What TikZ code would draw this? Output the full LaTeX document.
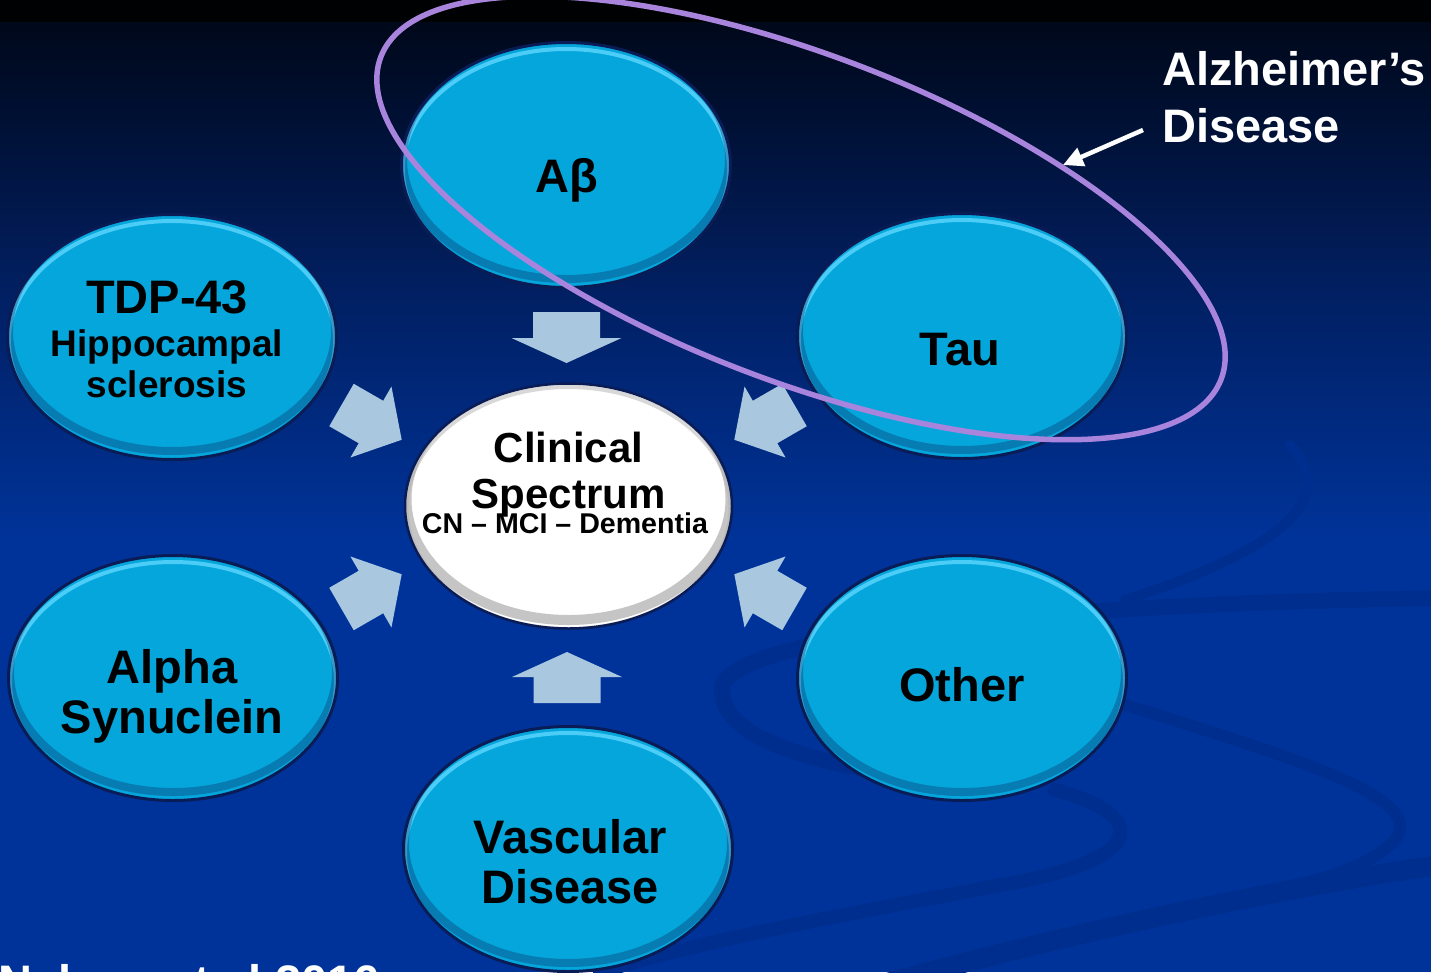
\documentclass[tikz,border=0pt]{standalone}
\usepackage{fontspec}
\setmainfont{Liberation Sans}
\usetikzlibrary{shapes.geometric,arrows.meta}
\definecolor{bgtop}{RGB}{0,6,20}
\definecolor{bgmid}{RGB}{1,32,100}
\definecolor{bgbot}{RGB}{0,51,153}
\definecolor{swoosh}{RGB}{0,46,143}
\definecolor{cyanf}{RGB}{5,166,219}
\definecolor{hl}{RGB}{75,205,248}
\definecolor{edge}{RGB}{10,28,85}
\definecolor{arr}{RGB}{169,200,224}
\definecolor{adpurple}{RGB}{168,132,220}
\tikzset{
  blob/.style={ellipse, draw=edge, line width=3pt, fill=cyanf,
    minimum width=329pt, minimum height=245pt, inner sep=0pt,
    path picture={
      \draw[hl, line width=4pt] ([yshift=-4pt]path picture bounding box.center) ellipse [x radius=163pt, y radius=120pt];
      \draw[edge, opacity=0.3, line width=8pt] ([yshift=6pt]path picture bounding box.center) ellipse [x radius=163pt, y radius=120pt];
    }},
  clinblob/.style={ellipse, draw=edge, line width=2.5pt, fill=white,
    minimum width=327pt, minimum height=245pt, inner sep=0pt,
    path picture={
      \draw[black!45, opacity=0.5, line width=10pt] ([yshift=7pt]path picture bounding box.center) ellipse [x radius=162pt, y radius=121pt];
      \draw[black!30, opacity=0.5, line width=4pt] ([yshift=-2pt]path picture bounding box.center) ellipse [x radius=162pt, y radius=121pt];
    }},
  lab/.style={font=\bfseries\fontsize{47}{50}\selectfont, anchor=base, inner sep=0pt, text=black},
  labm/.style={lab, font=\bfseries\fontsize{42}{44}\selectfont},
  labs/.style={lab, font=\bfseries\fontsize{37}{40}\selectfont},
  labxs/.style={lab, font=\bfseries\fontsize{28.6}{30}\selectfont},
  wlab/.style={lab, text=white, anchor=base west},
  diagarrow/.pic={\fill[arr] (0,-24.5) -- (34,-24.5) -- (34,-41) -- (69.5,0) -- (34,41) -- (34,24.5) -- (0,24.5) -- cycle;},
  vertarrow/.pic={\fill[arr] (0,-33.5) -- (26,-33.5) -- (26,-55) -- (51,0) -- (26,55) -- (26,33.5) -- (0,33.5) -- cycle;},
  swo/.style={swoosh, line cap=round}
}
\begin{document}
\begin{tikzpicture}[x=1pt,y=-1pt]
\useasboundingbox (0,0) rectangle (1431,972);
\clip (0,0) rectangle (1431,972);
% background
\fill[bgbot] (0,0) rectangle (1431,972);
\shade[top color=bgtop, bottom color=bgmid] (0,0) rectangle (1431,300);
\shade[top color=bgmid, bottom color=bgbot] (0,299.5) rectangle (1431,540);
\fill[black!85!bgtop] (0,0) rectangle (1431,22);
% faint swooshes
\draw[swo, line width=16pt] (1440,598) .. controls (1000,605) and (722,640) .. (722,690) .. controls (722,735) and (800,760) .. (900,775);
\draw[swo, line width=14pt] (1055,790) .. controls (1150,815) and (1150,860) .. (1000,885) .. controls (900,905) and (720,935) .. (600,972);
\draw[swo, line width=12pt] (1110,700) .. controls (1300,760) and (1440,800) .. (1390,845) .. controls (1350,880) and (1270,890) .. (1220,900);
\draw[swo, line width=20pt] (880,985) .. controls (1100,925) and (1300,885) .. (1440,865);
\draw[swo, line width=10pt] (1290,445) .. controls (1330,490) and (1310,540) .. (1125,600);
% disease nodes
\node[blob] (ab)    at (566,165) {};
\node[blob] (tdp)   at (172,337) {};
\node[blob] (tau)   at (962,336) {};
\node[blob] (alpha) at (173,678) {};
\node[blob] (other) at (962,678) {};
\node[blob] (vasc)  at (568,849) {};
\node[clinblob] (clin) at (568.5,506) {};
% labels
\node[lab] (tab) at (567,192) {Aβ};
\node[lab] (ttau) at (960,365) {Tau};
\node[lab] (ttdp) at (167,313) {TDP-43};
\node[labs] (thip) at (167,356) {Hippocampal};
\node[labs] (tscl) at (167,397) {sclerosis};
\node[lab] (talpha) at (172,683) {Alpha};
\node[lab] (tsyn) at (172,733) {Synuclein};
\node[lab] (tother) at (962,701) {Other};
\node[lab] (tvasc) at (570,853) {Vascular};
\node[lab] (tvdis) at (570,903) {Disease};
\node[labm] (tclin) at (568.5,462) {Clinical};
\node[labm] (tspec) at (568.5,508) {Spectrum};
\node[labxs] (tcn) at (565,533) {CN – MCI – Dementia};
% block arrows
\pic[rotate=-90] at (566.5,312) {vertarrow};
\pic[rotate=90]  at (567,703) {vertarrow};
\pic[rotate=-30] at (341.5,405) {diagarrow};
\pic[rotate=30]  at (341.5,609) {diagarrow};
\pic[rotate=-150] at (794.5,405) {diagarrow};
\pic[rotate=150] at (794.5,609) {diagarrow};
% Alzheimer's ring
\node[ellipse, draw=adpurple, line width=5.5pt, minimum width=900pt, minimum height=326pt,
      inner sep=0pt, rotate=-21] (adring) at (801,218) {};
\node[wlab] (tad1) at (1162,85) {Alzheimer’s};
\node[wlab] (tad2) at (1162,142) {Disease};
\coordinate (adtail) at (1143,130);
\coordinate (adtip) at (1063,165);
\draw[white, line width=4.5pt, -{Triangle[length=20pt,width=19pt]}] (adtail) -- (adtip);
% citation (cut off at bottom)
\node[wlab] (cite) at (-2,998) {Nelson et al 2016};
\end{tikzpicture}
\end{document}
